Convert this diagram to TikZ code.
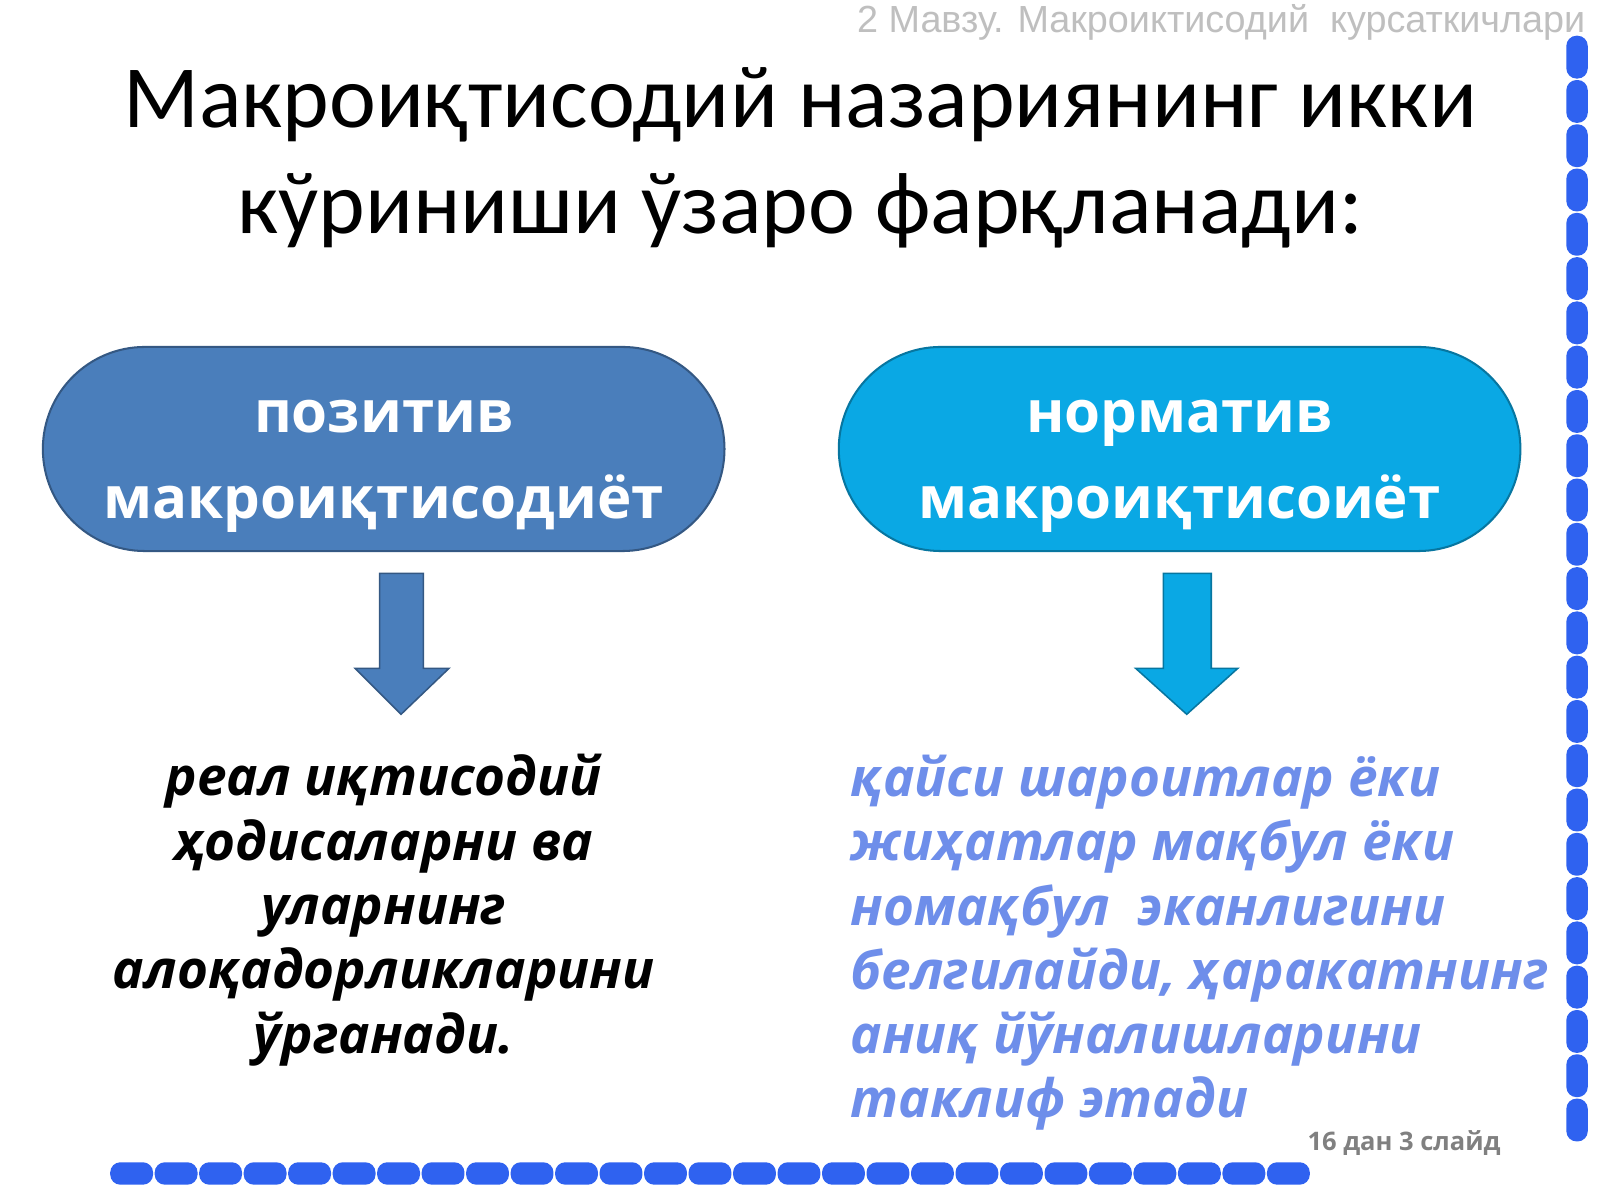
\documentclass[tikz,border=0pt]{standalone}
\usepackage{fontspec}
\setmainfont{Open Sans}
\newfontfamily\carl{Carlito}
\newfontfamily\lib{Liberation Sans}
\begin{document}
\begin{tikzpicture}[x=1pt,y=-1pt,
  pill/.style={rounded corners=100pt, draw=#1!70!black, line width=2pt, fill=#1, minimum width=668pt, minimum height=200pt},
  pilltext/.style={text=white, font=\fontsize{57}{85}\selectfont\bfseries, align=center},
  darr/.style={draw=#1!70!black, line width=1.5pt, fill=#1},
  bead/.style={fill=dashblue, rounded corners=10pt}]
\definecolor{boxa}{HTML}{4A7EBB}
\definecolor{boxb}{HTML}{0AA8E4}
\definecolor{rtext}{HTML}{6E8EEA}
\definecolor{dashblue}{HTML}{2F62F0}
\useasboundingbox (0,0) rectangle (1568,1176);
\fill[white] (0,0) rectangle (1568,1176);
\node[font=\lib\fontsize{37}{40}\selectfont, text=black!25, anchor=east] (hdr) at (1557,22) {2 Мавзу. Макроиктисодий\ \ курсаткичлари};
\node[align=center, font=\carl\fontsize{87}{104}\selectfont] (title) at (784,155) {Макроиқтисодий назариянинг икки\\кўриниши ўзаро фарқланади:};
\node[pill=boxa] (pos) at (376,440) {};
\node[pilltext] (post) at (376,457) {позитив\\макроиқтисодиёт};
\node[pill=boxb] (nor) at (1156,440) {};
\node[pilltext] (nort) at (1156,457) {норматив\\макроиқтисоиёт};
\draw[darr=boxa] (372,562) -- (415,562) -- (415,655) -- (440,655) -- (393,700) -- (348,655) -- (372,655) -- cycle;
\draw[darr=boxb] (1140,562) -- (1187,562) -- (1187,655) -- (1213,655) -- (1163,700) -- (1113,655) -- (1140,655) -- cycle;
\node[align=center, font=\fontsize{52}{63}\selectfont\bfseries\itshape] (lt) at (376,892) {реал иқтисодий\\ҳодисаларни ва\\уларнинг\\алоқадорликларини\\ўрганади.};
\node[align=left, anchor=west, text=rtext, font=\fontsize{52}{63}\selectfont\bfseries\itshape] (rt) at (830,924) {қайси шароитлар ёки\\жиҳатлар мақбул ёки\\номақбул\ \ эканлигини\\белгилайди, ҳаракатнинг\\аниқ йўналишларини\\таклиф этади};
\node[text=black!50, font=\fontsize{25}{30}\selectfont\bfseries] (ft) at (1376,1120) {16 дан 3 слайд};
\foreach \i in {0,...,26} \fill[bead] ({108+\i*43.6},1139) rectangle ++(42,22);
\foreach \i in {0,...,24} \fill[bead] (1535,{35+\i*43.4}) rectangle ++(21,42);
\end{tikzpicture}
\end{document}
